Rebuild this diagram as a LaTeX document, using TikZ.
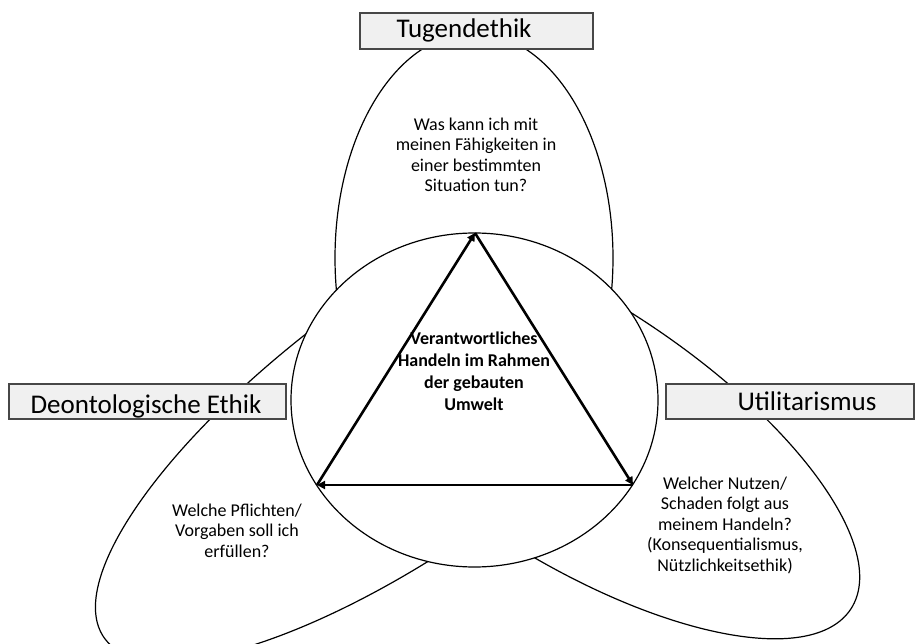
\documentclass[tikz,border=0pt]{standalone}
\usepackage{fontspec}
\setmainfont{Carlito}
\usetikzlibrary{arrows.meta}
\begin{document}
\begin{tikzpicture}[x=1pt,y=-1pt,
  outline/.style={draw=black, line width=1.2pt},
  titlebox/.style={draw=black!72, line width=1.3pt, fill=black!6, inner sep=0pt},
  titletext/.style={font=\fontsize{27}{30}\selectfont, inner sep=0pt, anchor=base},
  bodytext/.style={font=\fontsize{18}{20.5}\selectfont, align=center, inner sep=0pt, anchor=base},
  coretext/.style={font=\bfseries\fontsize{18}{22}\selectfont, align=center, inner sep=0pt, anchor=base},
  cyclearrow/.style={line width=2.6pt, -{Triangle[length=8pt,width=8pt]}}
]
\useasboundingbox (0,0) rectangle (921,644);

% side ovals (their inner ends disappear behind the circle)
\begin{scope}
  \clip (0,0) rectangle (474.5,644);
  \draw[outline, rotate around={35.8:(422,409.2)}] (422,409.2) ellipse [x radius=391.5pt, y radius=130pt];
\end{scope}
\begin{scope}
  \clip (474.5,0) rectangle (921,644);
  \draw[outline, rotate around={-32.8:(568.2,426.4)}] (568.2,426.4) ellipse [x radius=336.5pt, y radius=129.7pt];
\end{scope}

% upper oval
\draw[outline, fill=white] (474,258) ellipse [x radius=139pt, y radius=225pt];

% central circle
\draw[outline, fill=white] (474.5,400) ellipse [x radius=183.5pt, y radius=167pt];

% triangle of arrows
\coordinate (apex) at (475,233);
\coordinate (left) at (317,485);
\coordinate (right) at (633,485);
\draw[cyclearrow] (left) -- (apex);
\draw[cyclearrow] (apex) -- (right);
\draw[cyclearrow] (right) -- (left);

% texts (anchor base = baseline of the last line)
\node[bodytext] (qtop) at (476,192) {Was kann ich mit\\meinen Fähigkeiten in\\einer bestimmten\\Situation tun?};
\node[coretext] (core) at (474,410) {Verantwortliches\\Handeln im Rahmen\\der gebauten\\Umwelt};
\node[bodytext] (qleft) at (237,557) {Welche Pflichten/\\Vorgaben soll ich\\erfüllen?};
\node[bodytext] (qright) at (725,571) {Welcher Nutzen/\\Schaden folgt aus\\meinem Handeln?\\(Konsequentialismus,\\Nützlichkeitsethik)};

% title boxes
\draw[titlebox] (360,13) rectangle (593,49);
\node[titletext] (ttop) at (464,38) {Tugendethik};
\draw[titlebox] (9,384) rectangle (286,419);
\node[titletext] (tleft) at (146,413) {Deontologische Ethik};
\draw[titlebox] (666,384) rectangle (914,419);
\node[titletext] (tright) at (807,410) {Utilitarismus};
\end{tikzpicture}
\end{document}
